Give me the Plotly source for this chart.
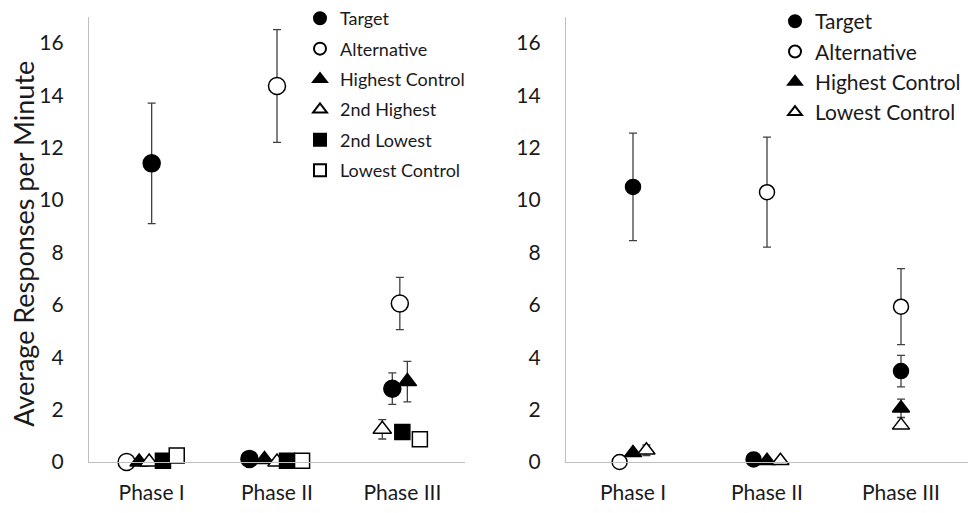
import plotly.graph_objects as go

# ---------------- data ----------------
phase_labels = ["Phase I", "Phase II", "Phase III"]
phase_pos = [1, 2, 3]

# Left panel (x = category position with Excel-style offsets)
L_target_x = [1.0, 1.78, 2.92]
L_target_y = [11.4, 0.12, 2.8]
L_target_e = [2.3, None, 0.6]

L_alt_x = [0.8, 2.0, 2.98]
L_alt_y = [0.0, 14.35, 6.05]
L_alt_e = [None, 2.15, 1.0]

L_high_x = [0.9, 1.9, 3.04]
L_high_y = [0.0, 0.1, 3.07]
L_high_e = [None, None, 0.77]

L_2high_x = [0.98, 2.0, 2.84]
L_2high_y = [0.0, 0.0, 1.25]
L_2high_e = [None, None, 0.37]

L_2low_x = [1.09, 2.08, 3.0]
L_2low_y = [0.05, 0.05, 1.15]

L_low_x = [1.2, 2.2, 3.14]
L_low_y = [0.25, 0.05, 0.87]

# Right panel
R_target_x = [1.0, 1.9, 3.0]
R_target_y = [10.5, 0.1, 3.47]
R_target_e = [2.05, None, 0.6]

R_alt_x = [0.9, 2.0, 3.0]
R_alt_y = [0.0, 10.3, 5.93]
R_alt_e = [None, 2.1, 1.45]

R_high_x = [1.0, 2.0, 3.0]
R_high_y = [0.35, 0.05, 2.05]
R_high_e = [None, None, 0.35]

R_low_x = [1.1, 2.1, 3.0]
R_low_y = [0.45, 0.05, 1.4]
R_low_e = [0.2, None, None]

y_title = "Average Responses per Minute"

# ---------------- styling ----------------
FONT = "Lato"
ERR_COLOR = "#404040"

def err(arr):
    if arr is None:
        return dict(visible=False)
    return dict(type="data", array=arr, visible=True, color=ERR_COLOR,
                thickness=1.3, width=4)

def mk(symbol, filled, size):
    return dict(symbol=symbol, size=size,
                color="black" if filled else "white",
                line=dict(color="black", width=1.5))

fig = go.Figure()

left = [
    ("Target", L_target_x, L_target_y, L_target_e, "circle", True, 17),
    ("Alternative", L_alt_x, L_alt_y, L_alt_e, "circle", False, 17),
    ("Highest Control", L_high_x, L_high_y, L_high_e, "triangle-up", True, 16),
    ("2nd Highest", L_2high_x, L_2high_y, L_2high_e, "triangle-up", False, 16),
    ("2nd Lowest", L_2low_x, L_2low_y, None, "square", True, 15),
    ("Lowest Control", L_low_x, L_low_y, None, "square", False, 15),
]
for name, xs, ys, es, sym, filled, size in left:
    fig.add_trace(go.Scatter(
        x=xs, y=ys, mode="markers", name=name, error_y=err(es),
        marker=mk(sym, filled, size), xaxis="x", yaxis="y",
        cliponaxis=False, legend="legend", legendgroup="L" + name))

right = [
    ("Target", R_target_x, R_target_y, R_target_e, "circle", True, 15),
    ("Alternative", R_alt_x, R_alt_y, R_alt_e, "circle", False, 15),
    ("Highest Control", R_high_x, R_high_y, R_high_e, "triangle-up", True, 15),
    ("Lowest Control", R_low_x, R_low_y, R_low_e, "triangle-up", False, 15),
]
for name, xs, ys, es, sym, filled, size in right:
    fig.add_trace(go.Scatter(
        x=xs, y=ys, mode="markers", name=name, error_y=err(es),
        marker=mk(sym, filled, size), xaxis="x2", yaxis="y2",
        cliponaxis=False, legend="legend2", legendgroup="R" + name))

W, H = 976, 513
ydom = [(513 - 472) / H, (513 - 15) / H]

xcommon = dict(range=[0.5, 3.5], tickvals=phase_pos, ticktext=phase_labels,
               showgrid=False, zeroline=False, showline=True,
               linecolor="#bfbfbf", linewidth=1.2, ticks="",
               tickfont=dict(family=FONT, size=21, color="#1a1a1a"),
               ticklabelstandoff=12, fixedrange=True)
ycommon = dict(range=[0, 17], tickvals=[0, 2, 4, 6, 8, 10, 12, 14, 16],
               showgrid=False, zeroline=False, showline=True,
               linecolor="#bfbfbf", linewidth=1.2, ticks="",
               tickfont=dict(family=FONT, size=21, color="#1a1a1a"),
               ticklabelstandoff=20, domain=ydom, fixedrange=True)

fig.update_layout(
    width=W, height=H,
    margin=dict(l=0, r=0, t=0, b=0),
    paper_bgcolor="white", plot_bgcolor="white",
    font=dict(family=FONT, color="#1a1a1a"),
    xaxis=dict(domain=[89 / W, 465 / W], anchor="y", **xcommon),
    yaxis=dict(anchor="x", **ycommon),
    xaxis2=dict(domain=[566 / W, 968 / W], anchor="y2", **xcommon),
    yaxis2=dict(anchor="x2", **ycommon),
    legend=dict(x=300 / W, y=1 + 2 / H, xanchor="left", yanchor="top",
                font=dict(family=FONT, size=18, color="#1a1a1a"),
                bgcolor="rgba(0,0,0,0)", itemsizing="constant",
                tracegroupgap=4, traceorder="grouped"),
    legend2=dict(x=775 / W, y=1 + 1 / H, xanchor="left", yanchor="top",
                 font=dict(family=FONT, size=21, color="#1a1a1a"),
                 bgcolor="rgba(0,0,0,0)", itemsizing="constant",
                 tracegroupgap=0, traceorder="grouped"),
    annotations=[dict(text=y_title, x=24 / W, y=(513 - 248) / H,
                      xref="paper", yref="paper", textangle=-90,
                      showarrow=False,
                      font=dict(family=FONT, size=27, color="#1a1a1a"),
                      xanchor="center", yanchor="middle")],
)

fig.write_html("out.html")
